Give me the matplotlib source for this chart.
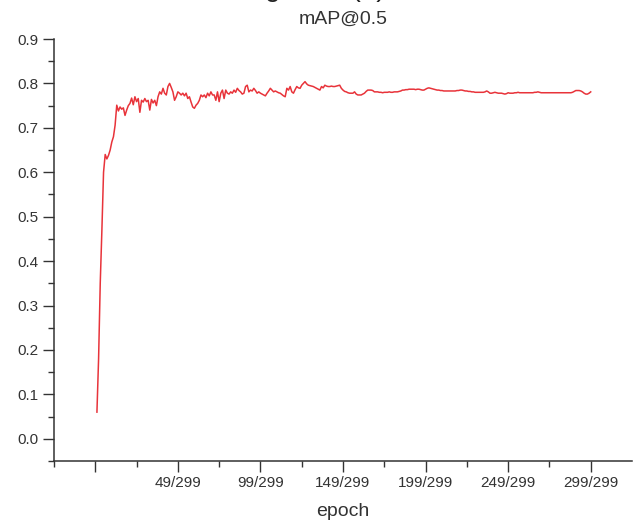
import numpy as np
import matplotlib
matplotlib.use("Agg")
import matplotlib.pyplot as plt
from matplotlib.ticker import FixedLocator

plt.rcParams['font.family'] = ['Liberation Sans', 'DejaVu Sans']

# mAP@0.5 per epoch
map50 = [
    0.060, 0.180, 0.350, 0.470, 0.600, 0.640, 0.630, 0.638, 0.650, 0.668,
    0.680, 0.706, 0.751, 0.738, 0.747, 0.742, 0.745, 0.728, 0.740, 0.750,
    0.755, 0.767, 0.752, 0.770, 0.759, 0.766, 0.735, 0.762, 0.758, 0.766,
    0.759, 0.762, 0.740, 0.764, 0.756, 0.762, 0.750, 0.770, 0.781, 0.776,
    0.789, 0.778, 0.774, 0.793, 0.800, 0.791, 0.781, 0.762, 0.770, 0.781,
    0.778, 0.774, 0.778, 0.772, 0.778, 0.766, 0.770, 0.758, 0.747, 0.744,
    0.751, 0.755, 0.762, 0.774, 0.770, 0.774, 0.768, 0.778, 0.772, 0.781,
    0.774, 0.774, 0.762, 0.781, 0.759, 0.778, 0.785, 0.766, 0.785, 0.778,
    0.776, 0.781, 0.778, 0.785, 0.780, 0.789, 0.784, 0.781, 0.776, 0.778,
    0.793, 0.796, 0.781, 0.785, 0.783, 0.789, 0.784, 0.778, 0.781, 0.778,
    0.776, 0.774, 0.772, 0.778, 0.783, 0.789, 0.785, 0.781, 0.783, 0.781,
    0.779, 0.778, 0.775, 0.772, 0.770, 0.789, 0.785, 0.793, 0.781, 0.778,
    0.786, 0.793, 0.790, 0.789, 0.796, 0.800, 0.804, 0.799, 0.796, 0.795,
    0.794, 0.793, 0.791, 0.789, 0.787, 0.785, 0.793, 0.790, 0.796, 0.794,
    0.793, 0.793, 0.794, 0.793, 0.793, 0.794, 0.795, 0.796, 0.789, 0.785,
    0.782, 0.781, 0.779, 0.778, 0.778, 0.778, 0.781, 0.776, 0.774, 0.774,
    0.774, 0.776, 0.778, 0.782, 0.785, 0.785, 0.785, 0.784, 0.781, 0.781,
    0.781, 0.780, 0.780, 0.779, 0.780, 0.780, 0.780, 0.781, 0.780, 0.780,
    0.781, 0.781, 0.781, 0.782, 0.783, 0.785, 0.785, 0.786, 0.786, 0.787,
    0.787, 0.787, 0.787, 0.786, 0.787, 0.787, 0.786, 0.785, 0.785, 0.787,
    0.789, 0.790, 0.789, 0.788, 0.787, 0.786, 0.785, 0.785, 0.784, 0.784,
    0.783, 0.783, 0.783, 0.783, 0.783, 0.783, 0.783, 0.783, 0.784, 0.784,
    0.785, 0.785, 0.784, 0.783, 0.783, 0.782, 0.782, 0.781, 0.781, 0.780,
    0.780, 0.780, 0.780, 0.780, 0.780, 0.781, 0.783, 0.781, 0.778, 0.778,
    0.779, 0.780, 0.779, 0.778, 0.778, 0.778, 0.777, 0.776, 0.777, 0.779,
    0.778, 0.778, 0.778, 0.779, 0.779, 0.780, 0.779, 0.779, 0.779, 0.779,
    0.779, 0.779, 0.779, 0.779, 0.779, 0.780, 0.780, 0.781, 0.780, 0.779,
    0.779, 0.779, 0.779, 0.779, 0.779, 0.779, 0.779, 0.779, 0.779, 0.779,
    0.779, 0.779, 0.779, 0.779, 0.779, 0.779, 0.779, 0.779, 0.780, 0.782,
    0.784, 0.784, 0.784, 0.783, 0.781, 0.778, 0.776, 0.776, 0.778, 0.781,
]
epochs = np.arange(len(map50))

x_ticks = [-1, 49, 99, 149, 199, 249, 299]
x_tick_labels = ['', '49/299', '99/299', '149/299', '199/299', '249/299', '299/299']
y_ticks = [0.0, 0.1, 0.2, 0.3, 0.4, 0.5, 0.6, 0.7, 0.8, 0.9]

fig = plt.figure(figsize=(6.37, 5.21), dpi=100)
ax = fig.add_axes([54/637, 1 - 461/521, 578/637, 422/521])

ax.plot(epochs, map50, color='#e8333a', linewidth=1.1)

ax.set_xlim(-26, 324)
ax.set_ylim(-0.05, 0.9)

ax.set_xticks(x_ticks)
ax.set_xticklabels(x_tick_labels)
ax.xaxis.set_minor_locator(FixedLocator([-26, 24, 74, 124, 174, 224, 274]))
ax.set_yticks(y_ticks)
ax.set_yticklabels(['%.1f' % v for v in y_ticks])
ax.yaxis.set_minor_locator(FixedLocator(np.arange(-0.05, 0.9, 0.1)))

for side in ['top', 'right']:
    ax.spines[side].set_visible(False)
for side in ['left', 'bottom']:
    ax.spines[side].set_color('#333333')
    ax.spines[side].set_linewidth(1.1)

ax.tick_params(which='major', direction='out', length=8, width=1.0,
               color='#333333', labelsize=11, labelcolor='#333333', pad=3)
ax.tick_params(which='minor', direction='out', length=4.5, width=1.0,
               color='#333333')

ax.set_title('mAP@0.5', fontsize=14, color='#333333', pad=11)
ax.set_xlabel('epoch', fontsize=14, color='#333333', labelpad=9)

# caption of the original page, cut off at the top edge
fig.text(242/637, 1 + 4.5/521, 'Figure 5 (a)', fontsize=20, ha='left',
         va='baseline', color='#222222')

fig.savefig('out.png', dpi=100)
